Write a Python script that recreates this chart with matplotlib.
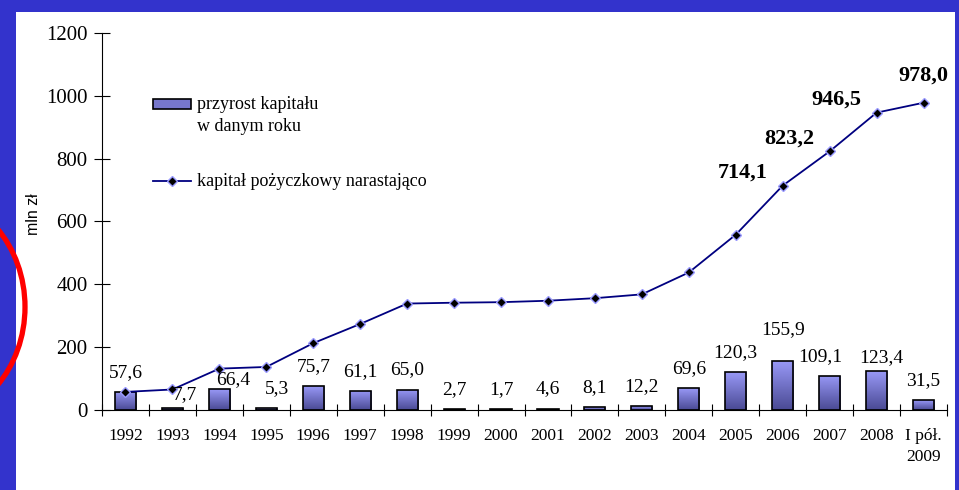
import matplotlib
matplotlib.use("Agg")
import matplotlib.pyplot as plt
import numpy as np
from matplotlib.patches import Rectangle, Ellipse
from matplotlib.lines import Line2D
from matplotlib.colors import LinearSegmentedColormap

plt.rcParams['font.family'] = ['Liberation Serif', 'DejaVu Serif']

# dane
lata = ['1992', '1993', '1994', '1995', '1996', '1997', '1998', '1999', '2000',
        '2001', '2002', '2003', '2004', '2005', '2006', '2007', '2008', 'I pół.\n2009']
przyrost = [57.6, 7.7, 66.4, 5.3, 75.7, 61.1, 65.0, 2.7, 1.7,
            4.6, 8.1, 12.2, 69.6, 120.3, 155.9, 109.1, 123.4, 31.5]
narastajaco = [57.6, 65.3, 131.7, 137.0, 212.7, 273.8, 338.8, 341.5, 343.2,
               347.8, 355.9, 368.1, 437.7, 558.0, 714.1, 823.2, 946.5, 978.0]
# ktore punkty linii maja etykiety (pogrubione)
etykiety_linii = [14, 15, 16, 17]

# przesuniecia etykiet slupkow (px) tam gdzie koliduja z linia
przesun = {1: (13, -7), 2: (14, -10), 3: (11, 0), 14: (0, 12), 15: (-9, 0), 16: (5, -6)}

W, H = 959, 490
def fx(px):
    return px / W
def fy(py):
    return 1 - py / H

fig = plt.figure(figsize=(W / 100, H / 100), dpi=100, facecolor='#3333CC')

# biale tlo slajdu
fig.patches.append(Rectangle((fx(16), fy(490)), fx(955) - fx(16), fy(12) - fy(490),
                             transform=fig.transFigure, facecolor='white',
                             edgecolor='none', zorder=-5))

ax = fig.add_axes([fx(102), fy(410), fx(947) - fx(102), fy(33) - fy(410)])
ax.set_facecolor('none')

x = np.arange(len(lata))
szer = 0.45
cmap = LinearSegmentedColormap.from_list('grad', ['#4a4a94', '#9898F6'])
grad = np.linspace(0, 1, 100).reshape(-1, 1)

bary = ax.bar(x, przyrost, width=szer, color='#7777CC', edgecolor='black',
              linewidth=1.2, zorder=2)
for b in bary:
    x0, y0 = b.get_x(), b.get_y()
    w, h = b.get_width(), b.get_height()
    im = ax.imshow(grad, cmap=cmap, extent=[x0, x0 + w, y0, y0 + h],
                   aspect='auto', origin='lower', zorder=2.1)
    im.set_clip_path(b)
    b.set_facecolor('none')
    b.set_zorder(2.2)

ax.plot(x, narastajaco, color='#000080', linewidth=1.3, marker='D', markersize=5,
        markerfacecolor='black', markeredgecolor='#9999FF', markeredgewidth=1.0, zorder=3)

# etykiety slupkow
for i, v in enumerate(przyrost):
    dx, dy = przesun.get(i, (0, 0))
    ax.annotate(f"{v:.1f}".replace('.', ','), (x[i], v), xytext=(dx * 0.72, (11 + dy) * 0.72),
                textcoords='offset points', ha='center', va='bottom', fontsize=14)

# etykiety linii
for i in etykiety_linii:
    txt = f"{narastajaco[i]:.1f}".replace('.', ',')
    if i == len(lata) - 1:
        ax.annotate(txt, (x[i], narastajaco[i]), xytext=(0, 12), textcoords='offset points',
                    ha='center', va='bottom', fontsize=16, fontweight='bold')
    else:
        ax.annotate(txt, (x[i], narastajaco[i]), xytext=(-11, 2), textcoords='offset points',
                    ha='right', va='bottom', fontsize=16, fontweight='bold')

ax.set_xlim(-0.5, len(lata) - 0.5)
ax.set_ylim(0, 1200)
ax.set_yticks(range(0, 1201, 200))
ax.tick_params(axis='y', direction='inout', length=11, width=0.8, labelsize=15, pad=5)
ax.set_xticks(x)
ax.set_xticklabels(lata, fontsize=12.5, linespacing=1.45)
ax.tick_params(axis='x', which='major', length=0, pad=13)
ax.set_xticks(np.arange(-0.5, len(lata), 1), minor=True)
ax.tick_params(axis='x', which='minor', direction='inout', length=9, width=0.8)
for s in ['top', 'right']:
    ax.spines[s].set_visible(False)
for s in ['left', 'bottom']:
    ax.spines[s].set_linewidth(0.8)

fig.text(fx(34), fy(214), 'mln zł', rotation=90, ha='center', va='center',
         fontsize=11.5, family=['Liberation Sans', 'DejaVu Sans'])

# legenda
fig.patches.append(Rectangle((fx(153), fy(109)), fx(191) - fx(153), fy(99) - fy(109),
                             transform=fig.transFigure, facecolor='#7777CC',
                             edgecolor='black', linewidth=1.2, zorder=5))
fig.text(fx(197), fy(96), 'przyrost kapitału\nw danym roku', ha='left', va='top',
         fontsize=13, linespacing=1.4, transform=fig.transFigure)
fig.lines.append(Line2D([fx(153), fx(191)], [fy(181), fy(181)], transform=fig.transFigure,
                        color='#000080', linewidth=1.3, zorder=5))
fig.lines.append(Line2D([fx(172)], [fy(181)], transform=fig.transFigure, linestyle='none',
                        marker='D', markersize=5, markerfacecolor='black',
                        markeredgecolor='#9999FF', markeredgewidth=1.0, zorder=6))
fig.text(fx(197), fy(181), 'kapitał pożyczkowy narastająco', ha='left', va='center',
         fontsize=13, transform=fig.transFigure)

# czerwony luk na lewej krawedzi
fig.patches.append(Ellipse((fx(-72), fy(307)), 2 * 97 / W, 2 * 112 / H,
                           transform=fig.transFigure, fill=False, edgecolor='#FF0000',
                           linewidth=3.8, zorder=10))

fig.savefig('out.png', dpi=100, facecolor=fig.get_facecolor())
